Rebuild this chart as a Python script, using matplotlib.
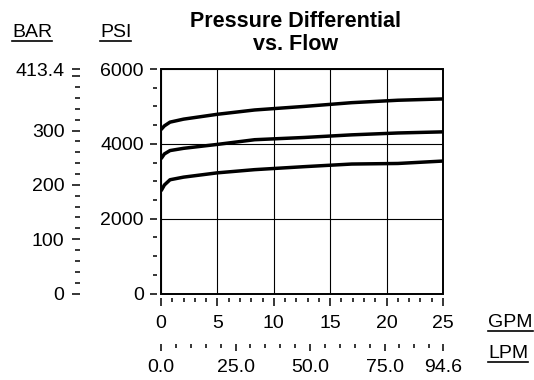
import matplotlib
matplotlib.use("Agg")
import matplotlib.pyplot as plt
from matplotlib.patches import Rectangle
from matplotlib.lines import Line2D
from matplotlib.ticker import MultipleLocator, FixedLocator, FixedFormatter

plt.rcParams['font.family'] = ['Liberation Sans', 'DejaVu Sans']

# ---- data ----
title = "Pressure Differential\nvs. Flow"
flow_gpm = [0, 0.3, 0.8, 2, 5, 8.3, 12.7, 16.9, 21, 25]
psi_high = [4380, 4480, 4580, 4660, 4790, 4905, 5000, 5100, 5165, 5200]
psi_mid = [3600, 3730, 3820, 3880, 3985, 4110, 4170, 4240, 4290, 4320]
psi_low = [2740, 2900, 3040, 3110, 3225, 3310, 3390, 3460, 3475, 3540]

gpm_ticks = [0, 5, 10, 15, 20, 25]
gpm_labels = ["0", "5", "10", "15", "20", "25"]
lpm_ticks = [0, 25, 50, 75, 94.6]
lpm_labels = ["0.0", "25.0", "50.0", "75.0", "94.6"]
psi_ticks = [0, 2000, 4000, 6000]
psi_labels = ["0", "2000", "4000", "6000"]
bar_ticks = [0, 100, 200, 300, 400, 413.4]
bar_labels = ["0", "100", "200", "300", "", "413.4"]
bar_minor = [20, 40, 60, 80, 120, 140, 160, 180, 220, 240, 260, 280, 320, 340, 360, 380]

GPM_MAX = 25.0
LPM_MAX = 94.6
PSI_MAX = 6000.0
BAR_MAX = 413.4

W, H = 534, 380
fig = plt.figure(figsize=(W / 100, H / 100), dpi=100)

L, R, T, B = 161, 443, 69, 293.5
ax = fig.add_axes([L / W, 1 - B / H, (R - L) / W, (B - T) / H])
ax.set_xlim(0, GPM_MAX)
ax.set_ylim(0, PSI_MAX)

FS = 14
for y in (psi_high, psi_mid, psi_low):
    ax.plot(flow_gpm, y, color='black', lw=2.5, solid_capstyle='butt', zorder=3)

# grid
ax.xaxis.set_major_locator(FixedLocator(gpm_ticks))
ax.xaxis.set_major_formatter(FixedFormatter(gpm_labels))
ax.xaxis.set_minor_locator(MultipleLocator(1))
ax.yaxis.set_major_locator(FixedLocator(psi_ticks))
ax.yaxis.set_major_formatter(FixedFormatter(psi_labels))
ax.yaxis.set_minor_locator(MultipleLocator(500))
ax.grid(True, which='major', color='black', lw=0.8)

for s in ax.spines.values():
    s.set_visible(False)
ax.spines['left'].set_position(('outward', 3))
ax.spines['bottom'].set_position(('outward', 3))
ax.add_patch(Rectangle((0, 0), 1, 1, transform=ax.transAxes, fill=False,
                       ec='black', lw=1.4, clip_on=False, zorder=4))

ax.tick_params(axis='both', which='major', length=7.5 * 0.72, width=1.1, color='black',
               labelsize=FS, pad=4)
ax.tick_params(axis='both', which='minor', length=4 * 0.72, width=1.1, color='black')
ax.tick_params(axis='x', which='major', pad=7)

# LPM secondary axis
sec = ax.secondary_xaxis(-50 / (B - T),
                         functions=(lambda g: g * LPM_MAX / GPM_MAX,
                                    lambda l: l * GPM_MAX / LPM_MAX))
sec.spines['bottom'].set_visible(False)
sec.xaxis.set_major_locator(FixedLocator(lpm_ticks))
sec.xaxis.set_major_formatter(FixedFormatter(lpm_labels))
sec.xaxis.set_minor_locator(MultipleLocator(5))
sec.tick_params(axis='x', which='major', length=7 * 0.72, width=1.1, labelsize=FS, pad=6)
sec.tick_params(axis='x', which='minor', length=4 * 0.72, width=1.1)

# BAR axis
axb = fig.add_axes([80 / W, 1 - B / H, 0.002, (B - T) / H])
axb.set_ylim(0, BAR_MAX)
axb.patch.set_visible(False)
for s in axb.spines.values():
    s.set_visible(False)
axb.xaxis.set_visible(False)
axb.yaxis.set_major_locator(FixedLocator(bar_ticks))
axb.yaxis.set_major_formatter(FixedFormatter(bar_labels))
axb.yaxis.set_minor_locator(FixedLocator(bar_minor))
axb.tick_params(axis='y', which='major', length=8 * 0.72, width=1.1, labelsize=FS, pad=5.5)
axb.tick_params(axis='y', which='minor', length=5 * 0.72, width=1.1)

# title
fig.text(296 / W, 1 - 11 / H, title, ha='center', va='top', fontsize=15.5,
         fontweight='bold', linespacing=1.15)

# unit labels (underlined)
units = [("BAR", 12, 37), ("PSI", 100, 37), ("GPM", 488, 327), ("LPM", 488, 358)]
texts = []
for s, x, y in units:
    t = fig.text(x / W, 1 - y / H, s, ha='left', va='baseline', fontsize=FS)
    texts.append((t, y))

fig.canvas.draw()
r = fig.canvas.get_renderer()
for t, y in texts:
    bb = t.get_window_extent(r)
    yy = 1 - (y + 3.5) / H
    fig.add_artist(Line2D([bb.x0 / W, bb.x1 / W], [yy, yy], transform=fig.transFigure,
                          color='black', lw=1.2))

fig.savefig("out.png", dpi=100)
